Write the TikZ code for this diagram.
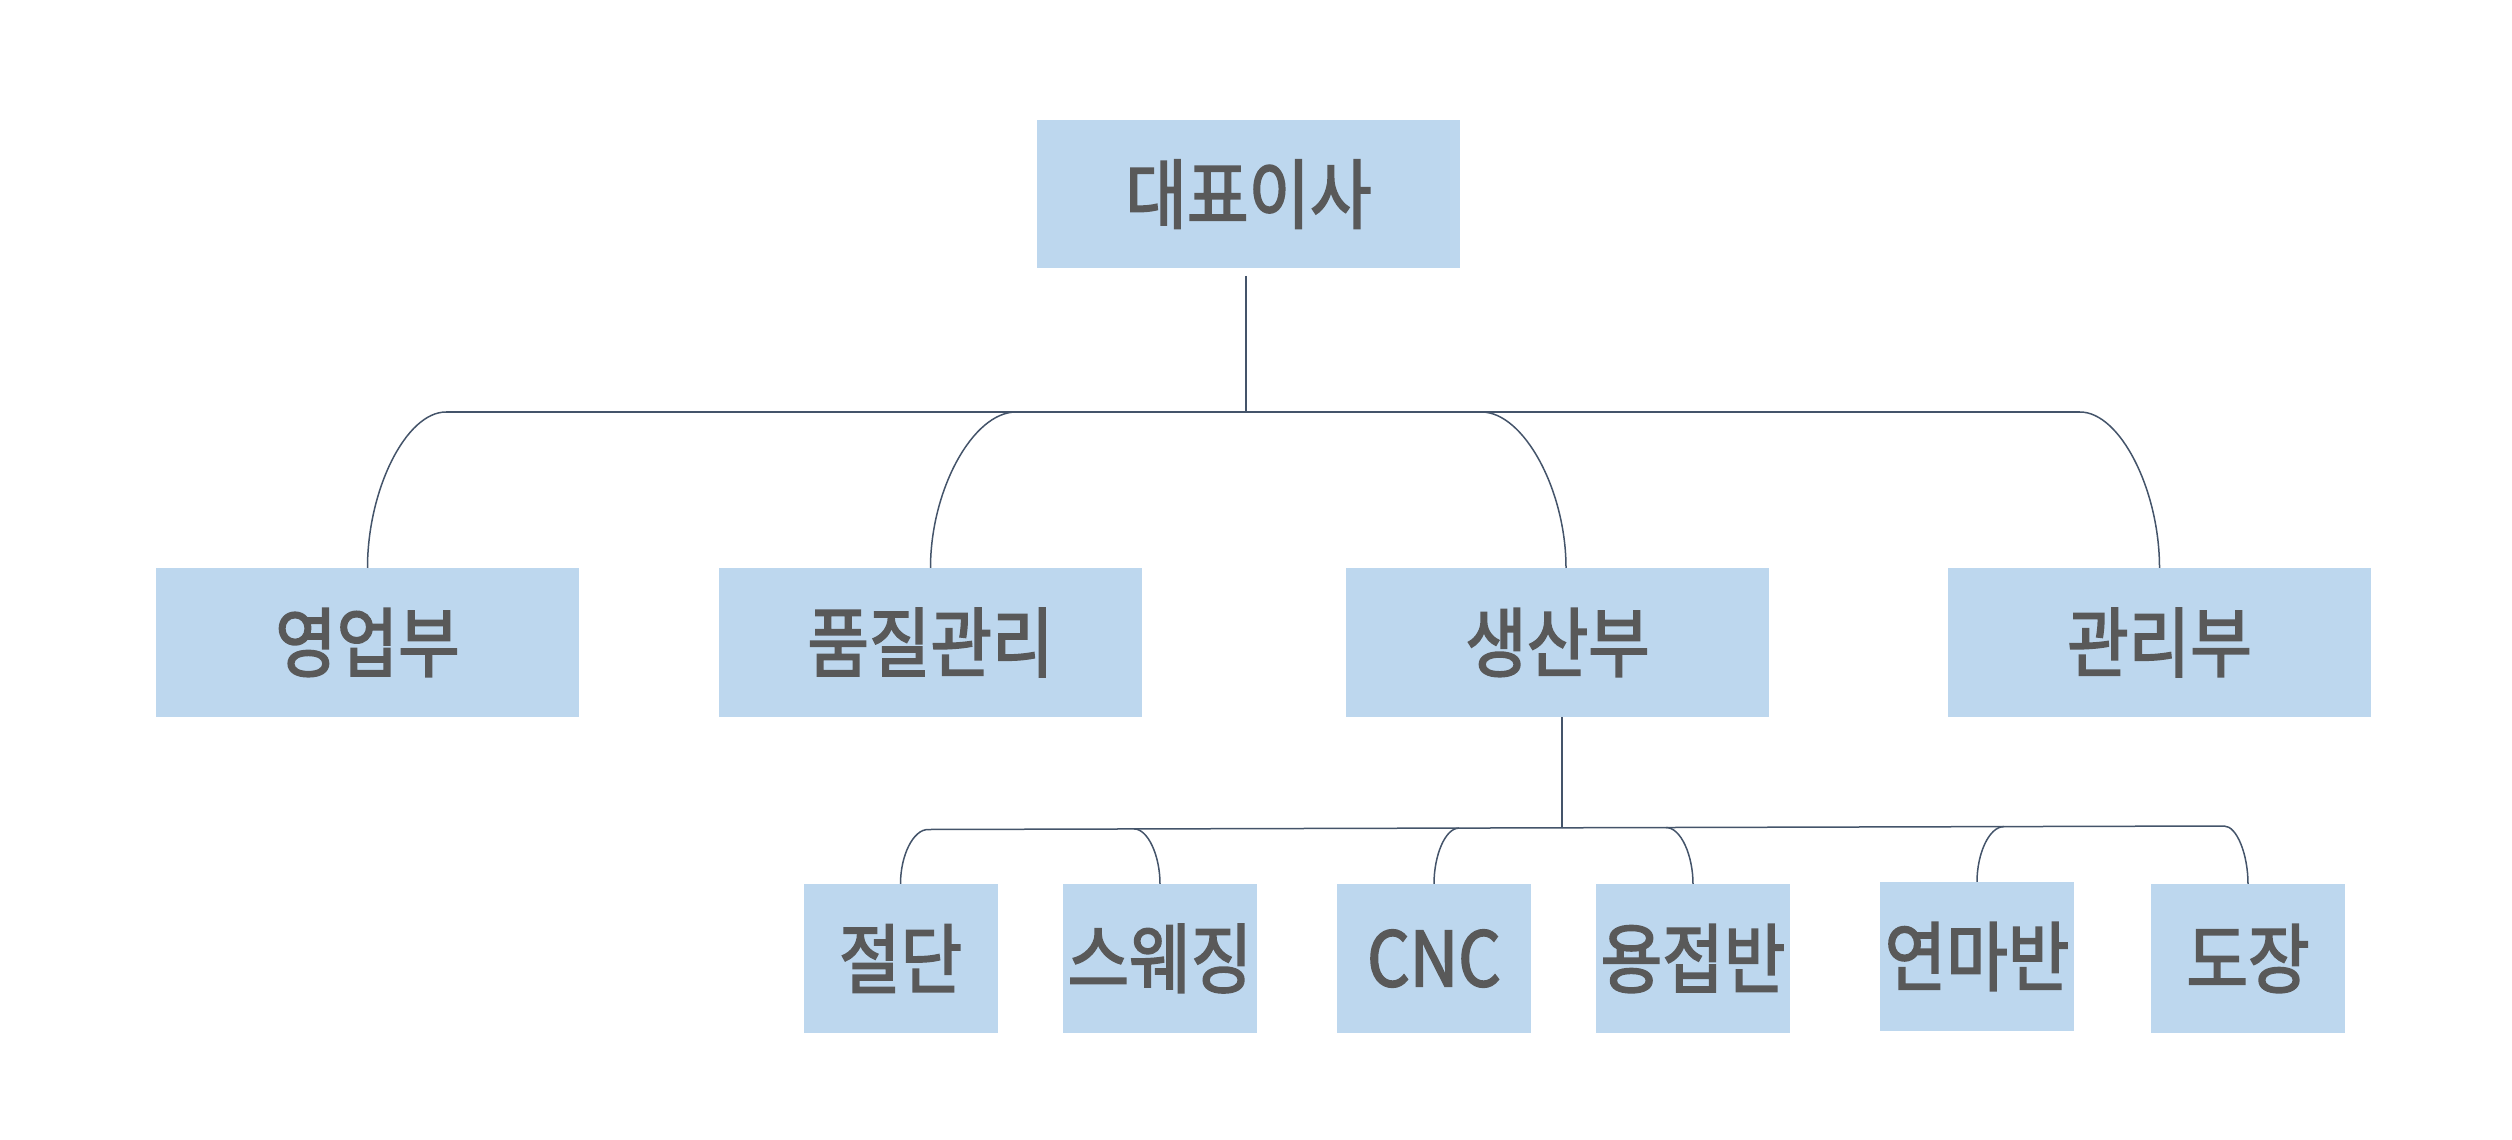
\documentclass[tikz,border=0pt]{standalone}
\usepackage{fontspec}
\newfontfamily\krfont[FakeStretch=0.88,FakeBold=2.2]{Noto Sans CJK KR}
\usetikzlibrary{calc}
\definecolor{boxblue}{HTML}{BDD7EE}
\definecolor{txtgray}{HTML}{595959}
\definecolor{linecol}{HTML}{44546A}
\tikzset{
  orgbox/.style={fill=boxblue, draw=none, inner sep=0pt, text=txtgray,
    font=\krfont\fontsize{76}{80}\selectfont},
  bigbox/.style={orgbox, minimum width=423pt, minimum height=149pt},
  smallbox/.style={orgbox, minimum width=194pt, minimum height=149pt},
  conn/.style={draw=linecol, line width=1.5pt}
}
\begin{document}
\begin{tikzpicture}[x=1pt,y=-1pt]
\useasboundingbox (0,0) rectangle (2512,1140);
% level 1
\node[bigbox, minimum height=148pt] (ceo) at (1248.5,194.2) {대표이사};
% level 2
\node[bigbox] (sales) at (367.5,642.5) {영업부};
\node[bigbox] (qc)    at (930.5,642.5) {품질관리};
\node[bigbox] (prod)  at (1557.5,642.5) {생산부};
\node[bigbox] (admin) at (2159.5,642.5) {관리부};
% level 3
\node[smallbox] (cut)    at (900.5,958.5) {절단};
\node[smallbox] (swage)  at (1160,958.5) {스웨징};
\node[smallbox] (cnc)    at (1434,958.5) {CNC};
\node[smallbox] (weld)   at (1693,958.5) {용접반};
\node[smallbox] (polish) at (1977,956.5) {연마반};
\node[smallbox] (paint)  at (2248,958.5) {도장};

% level 1 -> 2 connectors
\coordinate (t1) at ($(ceo.south)+(-2.5,7.5)$);
\coordinate (j1) at (1246,412);
\coordinate (bSales) at (446,412);
\coordinate (bQc) at (1016,412);
\coordinate (bProd) at (1481.5,412);
\coordinate (bAdmin) at (2080,412);
\coordinate (pTop) at ($(prod.north)+(8.5,0)$);
\draw[conn] (t1) -- (j1);
\draw[conn] (bSales) -- (bAdmin);
\draw[conn] (bSales) .. controls +(-40,0) and +(0,-78) .. (sales.north);
\draw[conn] (bQc) .. controls +(-43,0) and +(0,-78) .. (qc.north);
\draw[conn] (bProd) .. controls +(42,0) and +(0,-78) .. (pTop);
\draw[conn] (bAdmin) .. controls +(40,0) and +(0,-78) .. (admin.north);

% level 2 -> 3 connectors
\coordinate (pBot) at ($(prod.south)+(4.5,0)$);
\coordinate (j2) at (1562,827.8);
\coordinate (bCut) at (928,829.5);
\coordinate (bSwage) at (1134,828.9);
\coordinate (bCnc) at (1459,828.1);
\coordinate (bWeld) at (1666,827.5);
\coordinate (bPolish) at (2004,826.6);
\coordinate (bPaint) at (2224,826);
\draw[conn] (pBot) -- (j2);
\draw[conn] (j2) -- (bCut);
\draw[conn] (j2) -- (bPaint);
\draw[conn] (bCut) .. controls +(-15,0) and +(0,-28) .. (cut.north);
\draw[conn] (bSwage) .. controls +(14,0) and +(0,-28) .. (swage.north);
\draw[conn] (bCnc) .. controls +(-14,0) and +(0,-28) .. (cnc.north);
\draw[conn] (bWeld) .. controls +(15,0) and +(0,-28) .. (weld.north);
\draw[conn] (bPolish) .. controls +(-15,0) and +(0,-28) .. (polish.north);
\draw[conn] (bPaint) .. controls +(13,0) and +(0,-29) .. (paint.north);
\end{tikzpicture}
\end{document}
